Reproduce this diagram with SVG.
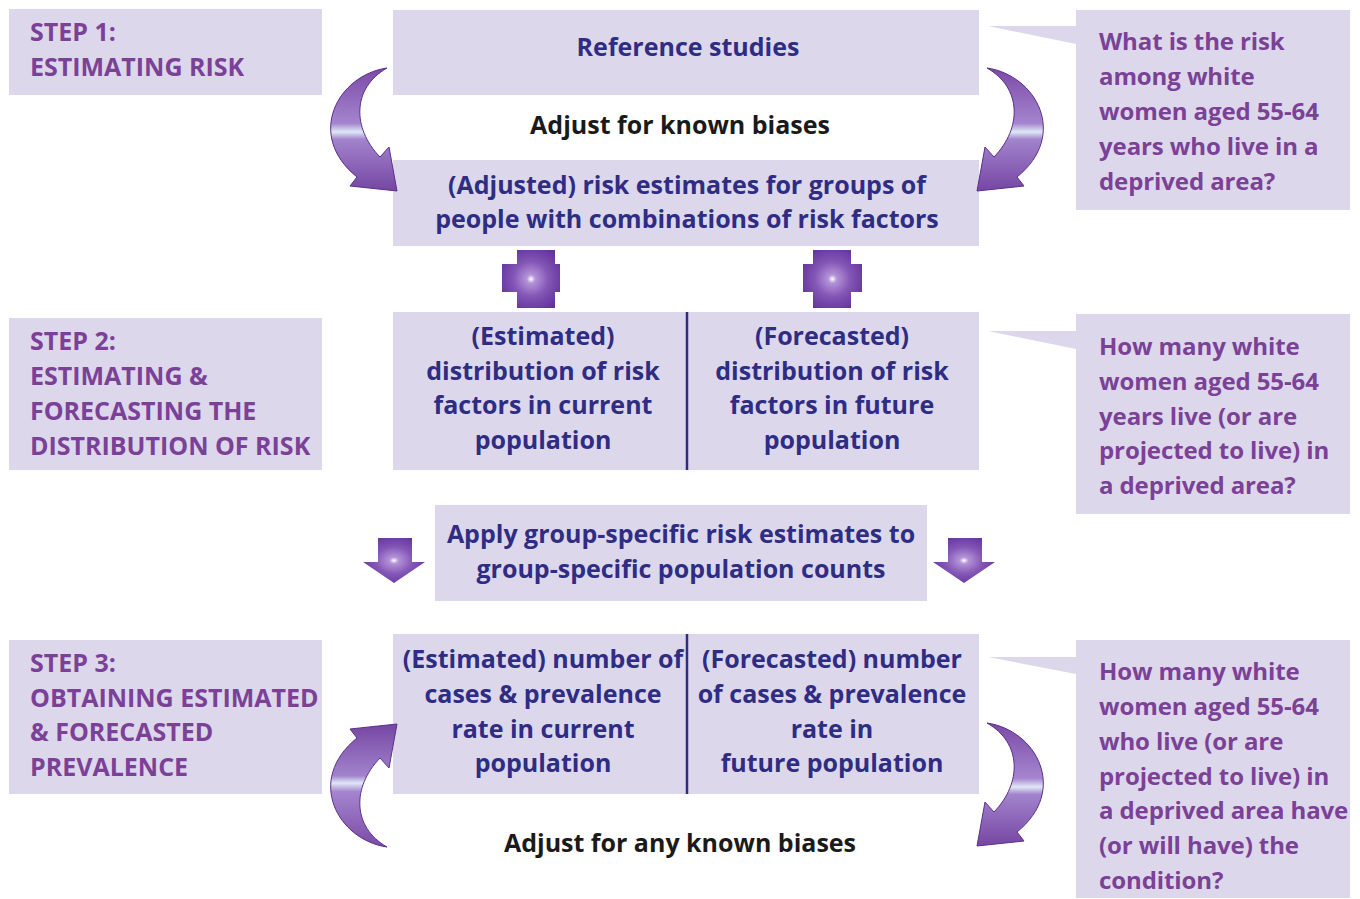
<svg xmlns="http://www.w3.org/2000/svg" width="1360" height="899" viewBox="0 0 1360 899">
<defs>
<style>
.box{fill:#ddd7ec}
.step{font-family:"Open Sans",Lato,sans-serif;font-weight:bold;font-size:25px;fill:#7b4197}
.q{font-family:"Open Sans",Lato,sans-serif;font-weight:bold;font-size:24px;fill:#7b4197;letter-spacing:-0.1px}
.c{font-family:"Open Sans",Lato,sans-serif;font-weight:bold;font-size:25px;fill:#2e2d83;text-anchor:middle}
.k{font-family:"Open Sans",Lato,sans-serif;font-weight:bold;font-size:25px;fill:#1a1a1a;text-anchor:middle}
.div{stroke:#2e2d83;stroke-width:2.5}
.arr{fill:url(#ag);stroke:#5c2f8a;stroke-width:1}
.dn{fill:url(#rg)}
</style>
<linearGradient id="ag" x1="0" y1="0" x2="0" y2="1">
<stop offset="0" stop-color="#7a4aa6"/>
<stop offset="0.45" stop-color="#a585cf"/>
<stop offset="0.52" stop-color="#dfe8f6"/>
<stop offset="0.58" stop-color="#a283cc"/>
<stop offset="1" stop-color="#7546a3"/>
</linearGradient>
<radialGradient id="rg" cx="0.5" cy="0.5" r="0.6">
<stop offset="0" stop-color="#ffffff"/>
<stop offset="0.12" stop-color="#b493d8"/>
<stop offset="0.5" stop-color="#8456b6"/>
<stop offset="1" stop-color="#62329a"/>
</radialGradient>
<path id="curve" d="M387,68 C338,75 305,135 357,177 L350,186 L397,191 L389,147 L380,157 C352,128 352,88 387,68 Z"/>
</defs>
<rect width="1360" height="899" fill="#ffffff"/>

<g id="step1"><rect class="box" x="9" y="9" width="313" height="86"/>
<text class="step" x="30" y="41">STEP 1:</text><text class="step" x="30" y="76">ESTIMATING RISK</text></g>

<g id="step2"><rect class="box" x="9" y="318" width="313" height="152"/>
<text class="step" x="30" y="350">STEP 2:</text><text class="step" x="30" y="385">ESTIMATING &amp;</text><text class="step" x="30" y="420">FORECASTING THE</text><text class="step" x="30" y="455">DISTRIBUTION OF RISK</text></g>

<g id="step3"><rect class="box" x="9" y="640" width="313" height="154"/>
<text class="step" x="30" y="672">STEP 3:</text><text class="step" x="30" y="707">OBTAINING ESTIMATED</text><text class="step" x="30" y="741">&amp; FORECASTED</text><text class="step" x="30" y="776">PREVALENCE</text></g>

<g id="reference"><rect class="box" x="393" y="10" width="586" height="85"/>
<text class="c" x="688" y="56">Reference studies</text></g>

<g id="adjusted"><rect class="box" x="393" y="160" width="586" height="86"/>
<text class="c" x="687" y="194">(Adjusted) risk estimates for groups of</text><text class="c" x="687" y="228">people with combinations of risk factors</text></g>

<g id="distribution"><rect class="box" x="393" y="312" width="586" height="158"/>
<line class="div" x1="687" y1="312" x2="687" y2="470"/>
<text class="c" x="543" y="345">(Estimated)</text><text class="c" x="543" y="380">distribution of risk</text><text class="c" x="543" y="414">factors in current</text><text class="c" x="543" y="449">population</text>
<text class="c" x="832" y="345">(Forecasted)</text><text class="c" x="832" y="380">distribution of risk</text><text class="c" x="832" y="414">factors in future</text><text class="c" x="832" y="449">population</text></g>

<g id="apply"><rect class="box" x="435" y="505" width="492" height="96"/>
<text class="c" x="681" y="543">Apply group-specific risk estimates to</text><text class="c" x="681" y="578">group-specific population counts</text></g>

<g id="cases"><rect class="box" x="393" y="634" width="586" height="160"/>
<line class="div" x1="687" y1="634" x2="687" y2="794"/>
<text class="c" x="543" y="668">(Estimated) number of</text><text class="c" x="543" y="703">cases &amp; prevalence</text><text class="c" x="543" y="738">rate in current</text><text class="c" x="543" y="772">population</text>
<text class="c" x="832" y="668">(Forecasted) number</text><text class="c" x="832" y="703">of cases &amp; prevalence</text><text class="c" x="832" y="738">rate in</text><text class="c" x="832" y="772">future population</text></g>

<g id="q1"><polygon class="box" points="988,26 1076,26 1076,44"/><rect class="box" x="1076" y="10" width="274" height="200"/>
<text class="q" x="1099" y="50">What is the risk</text><text class="q" x="1099" y="85">among white</text><text class="q" x="1099" y="120">women aged 55-64</text><text class="q" x="1099" y="155">years who live in a</text><text class="q" x="1099" y="190">deprived area?</text></g>

<g id="q2"><polygon class="box" points="988,331 1076,331 1076,349"/><rect class="box" x="1076" y="314" width="274" height="200"/>
<text class="q" x="1099" y="355">How many white</text><text class="q" x="1099" y="390">women aged 55-64</text><text class="q" x="1099" y="425">years live (or are</text><text class="q" x="1099" y="459">projected to live) in</text><text class="q" x="1099" y="494">a deprived area?</text></g>

<g id="q3"><polygon class="box" points="988,657 1076,657 1076,674"/><rect class="box" x="1076" y="640" width="274" height="258"/>
<text class="q" x="1099" y="680">How many white</text><text class="q" x="1099" y="715">women aged 55-64</text><text class="q" x="1099" y="750">who live (or are</text><text class="q" x="1099" y="785">projected to live) in</text><text class="q" x="1099" y="819">a deprived area have</text><text class="q" x="1099" y="854">(or will have) the</text><text class="q" x="1099" y="889">condition?</text></g>

<g id="connectors">
<use href="#curve" class="arr"/>
<use href="#curve" class="arr" transform="translate(1374,0) scale(-1,1)"/>
<use href="#curve" class="arr" transform="translate(0,915) scale(1,-1)"/>
<use href="#curve" class="arr" transform="translate(1374,655) scale(-1,1)"/>
<text class="k" x="680" y="134">Adjust for known biases</text>
<text class="k" x="680" y="852">Adjust for any known biases</text>
<path class="dn" d="M517,250 H555 V264 H560 V292 H555 V308 H517 V292 H502 V264 H517 Z"/>
<path class="dn" d="M813,250 H851 V264 H862 V292 H851 V308 H813 V292 H803 V264 H813 Z"/>
<path class="dn" d="M378,538 H412 V562 H425 L394,583 L363,562 H378 Z"/>
<path class="dn" d="M948,538 H982 V562 H995 L964,583 L933,562 H948 Z"/>
</g>
</svg>
